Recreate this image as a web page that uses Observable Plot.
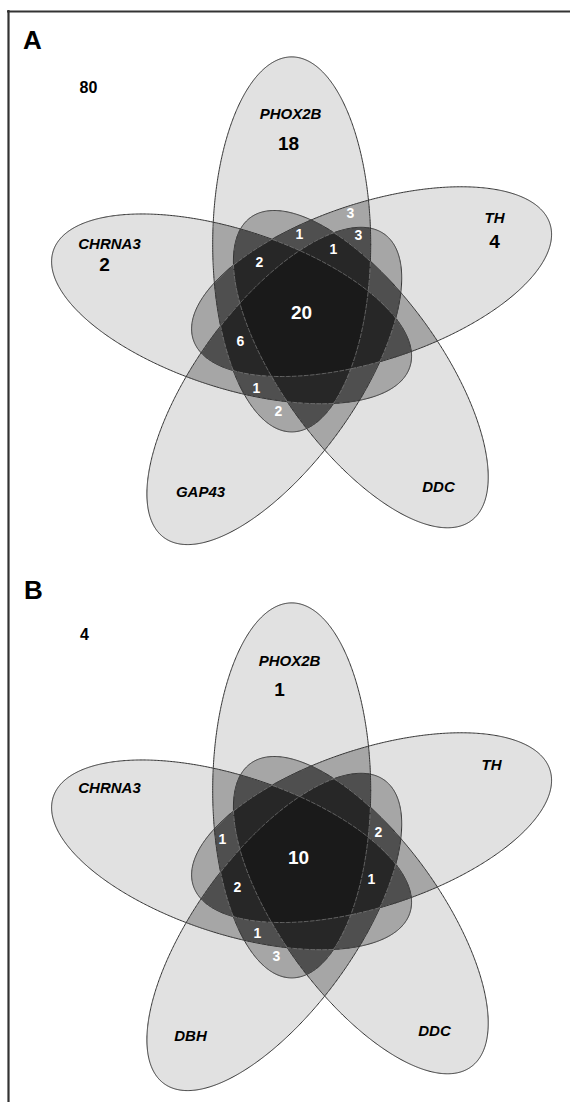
<!DOCTYPE html>
<html>
<head>
<meta charset="utf-8">
<script src="https://cdn.jsdelivr.net/npm/d3@7"></script>
<script src="https://cdn.jsdelivr.net/npm/@observablehq/plot@0.6"></script>
<style>
  html, body { margin: 0; padding: 0; background: #fff; }
  #chart svg { display: block; }
</style>
</head>
<body>
<div id="chart"></div>
<script>
// ---------------- data ----------------
const panelLetters = ["A", "B"];
// sets listed clockwise starting at the top ellipse
const setsA = ["PHOX2B", "TH", "DDC", "GAP43", "CHRNA3"];
const setsB = ["PHOX2B", "TH", "DDC", "DBH", "CHRNA3"];
const noneCounts = ["80", "4"];                 // genes in no set
const uniqueA = ["18", "4", "2"];               // PHOX2B only, TH only, CHRNA3 only
const uniqueB = ["1"];                          // PHOX2B only
const allCounts = ["20", "10"];                 // in all five sets
const innerA = ["3", "1", "3", "1", "2", "6", "1", "2"];
const innerB = ["1", "2", "2", "1", "1", "3"];

// ---------------- layout (pixel units of the figure) ----------------
const W = 570, H = 1102;
const panelShift = [0, 546];
const geo = {cx: 305.5, cy: 317.5, dx: -14.3, dy: -73.6, rx: 79, ry: 187.5};
const letterPos = [[32, 40], [33, 590]];
const nonePos = [[88, 87], [84, 634]];
const setPosA = [[290, 114], [494, 218], [438, 487], [200, 492], [109, 244]];
const setPosB = [[289, 661], [491, 765], [434, 1031], [190, 1036], [109, 788]];
const uniquePosA = [[288, 143], [494, 241], [104, 264]];
const uniquePosB = [[279, 689]];
const allPos = [[301, 312], [298, 857]];
const innerPosA = [[350, 213], [299, 234], [358, 235], [333, 249], [259, 262], [240, 341], [256, 388], [278, 411]];
const innerPosB = [[222, 839], [378, 832], [237, 887], [371, 879], [257, 933], [276, 956]];
const grays = ["#ffffff", "#e1e1e1", "#a6a6a6", "#4f4f4f", "#272727", "#1a1a1a"];

// ---------------- ellipses ----------------
const ellipses = [];
panelLetters.forEach((p, pi) => {
  const sets = pi === 0 ? setsA : setsB;
  sets.forEach((name, k) => {
    const t = k * 72 * Math.PI / 180;
    const c = Math.cos(t), s = Math.sin(t);
    ellipses.push({
      id: p + name,
      cx: geo.cx + geo.dx * c - geo.dy * s,
      cy: geo.cy + panelShift[pi] + geo.dx * s + geo.dy * c,
      rx: geo.rx, ry: geo.ry, c, s
    });
  });
});
function inside(e, x, y) {
  const dx = x - e.cx, dy = y - e.cy;
  const lx = dx * e.c + dy * e.s;
  const ly = -dx * e.s + dy * e.c;
  return (lx * lx) / (e.rx * e.rx) + (ly * ly) / (e.ry * e.ry) <= 1;
}
function depth(x, y, skip) {
  let n = 0;
  for (const e of ellipses) if (e !== skip && inside(e, x, y)) n++;
  return n;
}
// outline points; the part lying deep inside the dark core is drawn as a pale dashed line
const solid = [], dashed = [];
for (const e of ellipses) {
  const N = 720;
  for (let i = 0; i <= N; i++) {
    const u = (i / N) * 2 * Math.PI;
    const lx = e.rx * Math.cos(u), ly = e.ry * Math.sin(u);
    const x = e.cx + lx * e.c - ly * e.s, y = e.cy + lx * e.s + ly * e.c;
    const deep = depth(x, y, e) >= 3;
    solid.push({id: e.id, x, y: deep ? NaN : y});
    dashed.push({id: e.id, x, y: deep ? y : NaN});
  }
}

// ---------------- text tables ----------------
const font = "Liberation Sans, Arial, Helvetica, sans-serif";
const toRows = (vals, pos) => vals.map((v, i) => ({text: v, x: pos[i][0], y: pos[i][1]}));
const letterRows = toRows(panelLetters, letterPos);
const noneRows = toRows(noneCounts, nonePos);
const setRows = [...toRows(setsA, setPosA), ...toRows(setsB, setPosB)];
const uniqueRows = [...toRows(uniqueA, uniquePosA), ...toRows(uniqueB, uniquePosB)];
const allRows = toRows(allCounts, allPos);
const innerRows = [...toRows(innerA, innerPosA), ...toRows(innerB, innerPosB)];

const chart = Plot.plot({
  width: W,
  height: H,
  margin: 0,
  x: {domain: [0, W], range: [0, W], axis: null},
  y: {domain: [0, H], range: [0, H], axis: null},
  color: {type: "ordinal", domain: [0, 1, 2, 3, 4, 5], range: grays},
  style: {fontFamily: font, background: "#fff"},
  marks: [
    Plot.raster({x1: 0, y1: 0, x2: W, y2: H, fill: (x, y) => depth(x, y, null), pixelSize: 1}),
    Plot.line(solid, {x: "x", y: "y", z: "id", stroke: "#333", strokeWidth: 1}),
    Plot.line(dashed, {x: "x", y: "y", z: "id", stroke: "#8a8a8a", strokeWidth: 0.8, strokeDasharray: "4,2", strokeOpacity: 0.8}),
    Plot.ruleX([8], {y1: 10, y2: H, stroke: "#333", strokeWidth: 2.2}),
    Plot.ruleY([11], {x1: 7, x2: W, stroke: "#333", strokeWidth: 2.2}),
    Plot.text(letterRows, {x: "x", y: "y", text: "text", fontSize: 26, fontWeight: "bold", fill: "#000"}),
    Plot.text(noneRows, {x: "x", y: "y", text: "text", fontSize: 16, fontWeight: "bold", fill: "#000"}),
    Plot.text(setRows, {x: "x", y: "y", text: "text", fontSize: 15, fontWeight: "bold", fontStyle: "italic", fill: "#000"}),
    Plot.text(uniqueRows, {x: "x", y: "y", text: "text", fontSize: 19, fontWeight: "bold", fill: "#000"}),
    Plot.text(allRows, {x: "x", y: "y", text: "text", fontSize: 19, fontWeight: "bold", fill: "#fff"}),
    Plot.text(innerRows, {x: "x", y: "y", text: "text", fontSize: 14, fontWeight: "bold", fill: "#fff"})
  ]
});
document.getElementById("chart").appendChild(chart);
</script>
</body>
</html>
